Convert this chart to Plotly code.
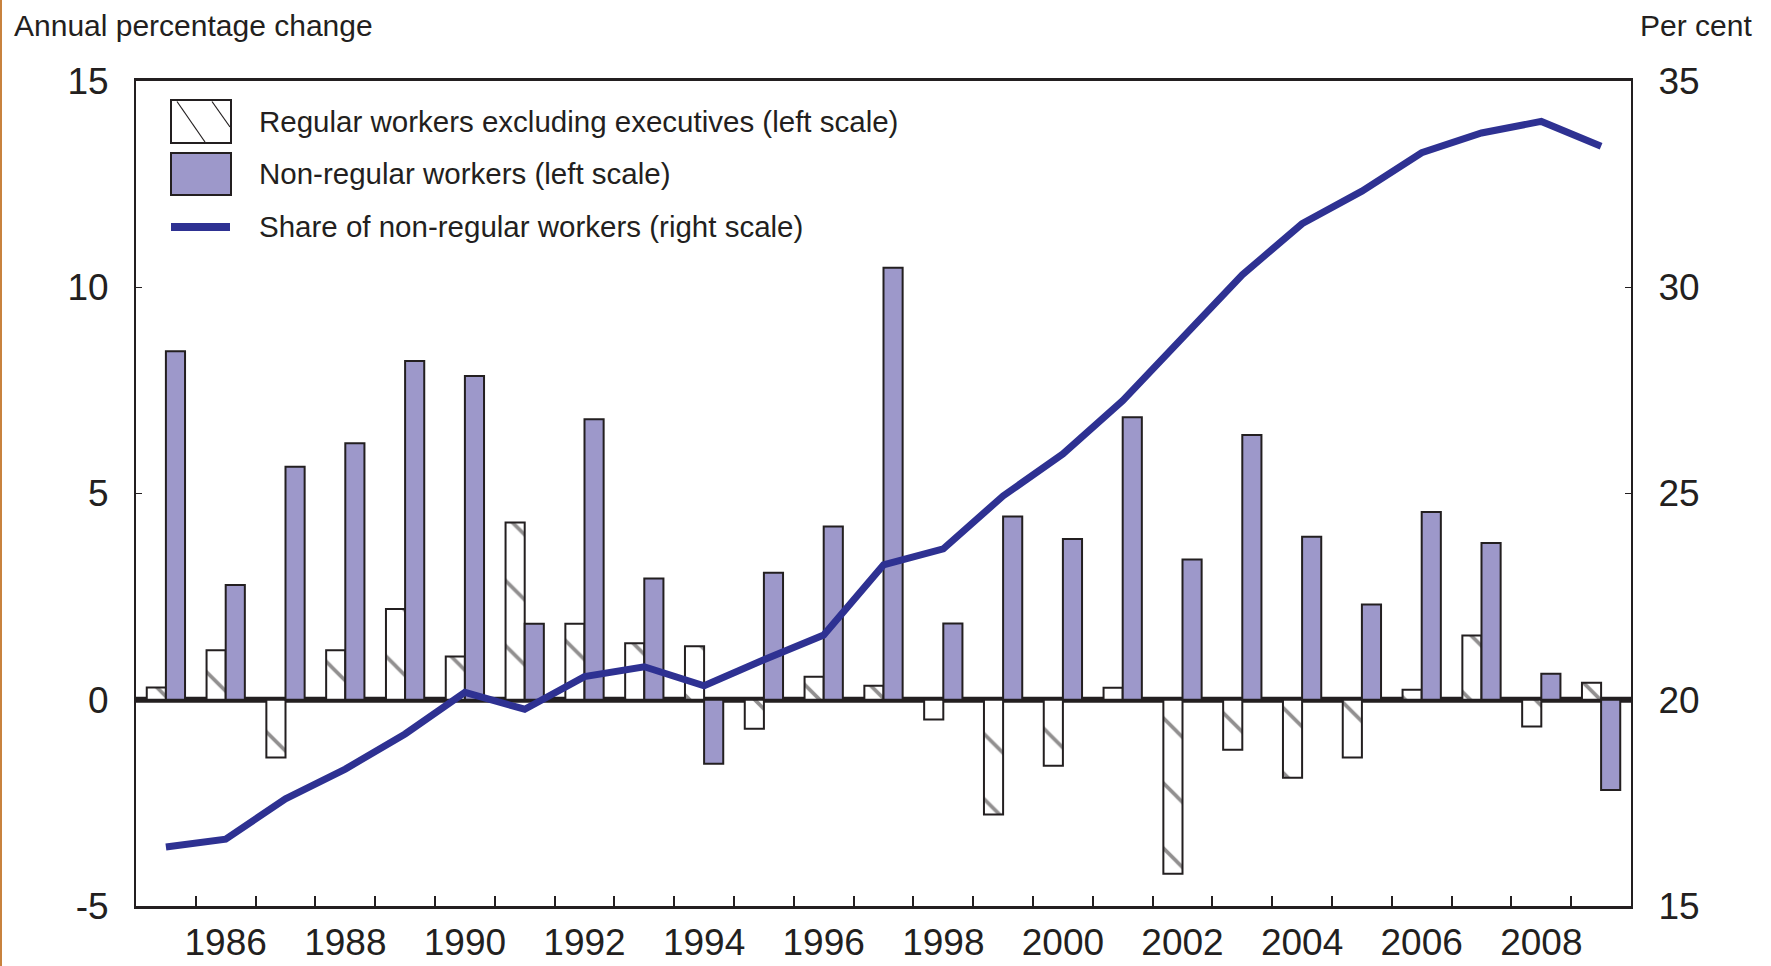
import plotly.graph_objects as go

years = list(range(1985, 2010))
regular = [0.3, 1.2, -1.4, 1.2, 2.2, 1.05, 4.3, 1.84, 1.37, 1.3, -0.7, 0.56, 0.34, -0.48,
           -2.78, -1.6, 0.29, -4.22, -1.21, -1.89, -1.4, 0.24, 1.56, -0.65, 0.41]
non_regular = [8.45, 2.78, 5.65, 6.22, 8.21, 7.85, 1.84, 6.8, 2.94, -1.55, 3.08, 4.2, 10.47, 1.85,
               4.44, 3.9, 6.85, 3.4, 6.42, 3.95, 2.31, 4.55, 3.8, 0.63, -2.19]
share = [16.43, 16.62, 17.6, 18.32, 19.17, 20.18, 19.77, 20.56, 20.8, 20.34, 20.97, 21.57, 23.27,
         23.66, 24.94, 25.96, 27.25, 28.8, 30.3, 31.54, 32.33, 33.26, 33.74, 34.02, 33.42]
label_years = list(range(1986, 2009, 2))
left_ticks = [-5, 0, 5, 10, 15]
right_ticks = [15, 20, 25, 30, 35]

INK = "#231f20"
PURPLE = "#9d98ca"
BLUE = "#2e3192"
FONT = "Liberation Sans, Arial, sans-serif"

fig = go.Figure()
fig.add_trace(go.Bar(x=years, y=regular, name="Regular workers excluding executives (left scale)",
                     marker=dict(color="white", line=dict(color=INK, width=2),
                                 pattern=dict(shape="\\", size=46, solidity=0.08,
                                              fgcolor=INK, bgcolor="white")),
                     showlegend=False))
fig.add_trace(go.Bar(x=years, y=non_regular, name="Non-regular workers (left scale)",
                     marker=dict(color=PURPLE, line=dict(color=INK, width=2)),
                     showlegend=False))
fig.add_trace(go.Scatter(x=years, y=share, name="Share of non-regular workers (right scale)",
                         mode="lines", line=dict(color=BLUE, width=7), yaxis="y2",
                         showlegend=False))

# hand-drawn legend (big swatches like the original)
W, H, L, T = 1495, 825, 136, 81
def px(x): return (x - L) / W
def py(y): return (T + H - y) / H

shapes = [
    # thick zero line, under the traces
    dict(type="line", xref="paper", yref="y", x0=0, x1=1, y0=0, y1=0, layer="below",
         line=dict(color=INK, width=6)),
    dict(type="rect", xref="paper", yref="paper", x0=px(171), x1=px(231), y0=py(143), y1=py(100),
         fillcolor="white", line=dict(color=INK, width=2)),
    dict(type="line", xref="paper", yref="paper", x0=px(177), y0=py(101.5), x1=px(205), y1=py(142),
         line=dict(color=INK, width=1.2)),
    dict(type="line", xref="paper", yref="paper", x0=px(212), y0=py(101.5), x1=px(230), y1=py(127),
         line=dict(color=INK, width=1.2)),
    dict(type="rect", xref="paper", yref="paper", x0=px(171), x1=px(231), y0=py(195), y1=py(153),
         fillcolor=PURPLE, line=dict(color=INK, width=2)),
    dict(type="line", xref="paper", yref="paper", x0=px(171), x1=px(230), y0=py(227), y1=py(227),
         line=dict(color=BLUE, width=8)),
    # orange page edge on the far left
    dict(type="line", xref="paper", yref="paper", x0=px(1), x1=px(1), y0=py(966), y1=py(0),
         line=dict(color="#c8823e", width=2)),
]
legend_text = ["Regular workers excluding executives (left scale)",
               "Non-regular workers (left scale)",
               "Share of non-regular workers (right scale)"]
annotations = [dict(text=t, xref="paper", yref="paper", x=px(257), y=py(yy), xanchor="left",
                    yanchor="middle", showarrow=False, font=dict(size=29.5, color=INK, family=FONT))
               for t, yy in zip(legend_text, [122, 173.5, 226.5])]
annotations += [
    dict(text="Annual percentage change", xref="paper", yref="paper", x=px(12), y=py(25),
         xanchor="left", yanchor="middle", showarrow=False, font=dict(size=30, color=INK, family=FONT)),
    dict(text="Per cent", xref="paper", yref="paper", x=px(1754), y=py(25),
         xanchor="right", yanchor="middle", showarrow=False, font=dict(size=30, color=INK, family=FONT)),
]

fig.update_layout(
    width=1771, height=966,
    margin=dict(l=136, r=140, t=81, b=60),
    paper_bgcolor="white", plot_bgcolor="white",
    font=dict(family=FONT, color=INK, size=37),
    barmode="group", bargap=0.36, bargroupgap=0,
    shapes=shapes, annotations=annotations,
    xaxis=dict(range=[1984.5, 2009.5], tickmode="array", tickvals=label_years,
               ticktext=[str(y) for y in label_years], ticks="", showgrid=False,
               showline=True, linecolor=INK, linewidth=2.5, mirror=True, automargin=False,
               ticklabelstandoff=2, zeroline=False,
               minor=dict(tickmode="array", tickvals=[y + 0.5 for y in years[:-1]],
                          ticks="inside", ticklen=10, tickwidth=1.5, tickcolor=INK, showgrid=False),
               tickfont=dict(size=37, family=FONT)),
    yaxis=dict(range=[-5, 15], tickmode="array", tickvals=left_ticks,
               ticktext=[str(v) for v in left_ticks], ticks="inside", ticklen=6,
               tickcolor=INK, showgrid=False, showline=True, linecolor=INK, linewidth=2,
               zeroline=False, ticklabelstandoff=18, automargin=False,
               tickfont=dict(size=37, family=FONT)),
    yaxis2=dict(range=[15, 35], tickmode="array", tickvals=right_ticks, overlaying="y", side="right",
                ticks="inside", ticklen=6, tickcolor=INK, showgrid=False, showline=True,
                linecolor=INK, linewidth=2, zeroline=False, ticklabelstandoff=18, automargin=False,
                tickfont=dict(size=37, family=FONT)),
)

# the page's default body margin would push the figure 8px off the window
fig.write_html("out.html", config={"displayModeBar": False},
               post_script="document.body.style.margin='0px';")
